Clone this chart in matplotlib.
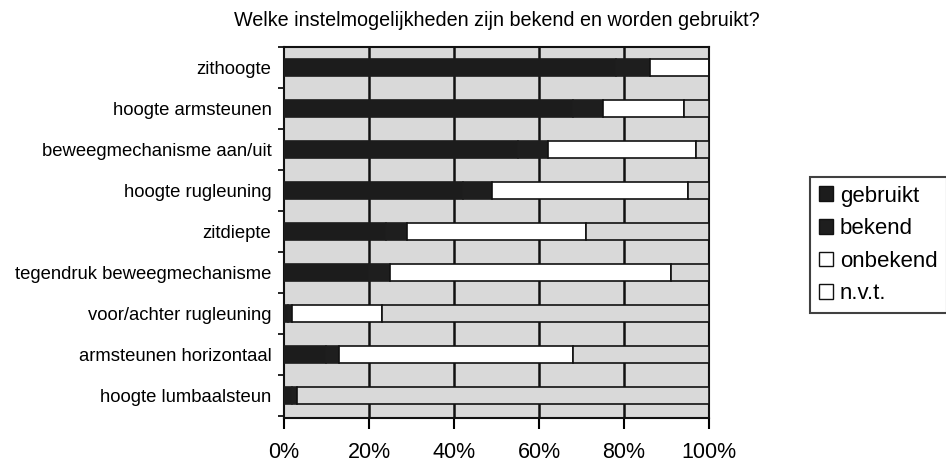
import matplotlib
matplotlib.use("Agg")
import matplotlib.pyplot as plt
import numpy as np
from matplotlib.patches import Patch

plt.rcParams['font.family'] = ['Liberation Sans', 'DejaVu Sans']

categories = ["zithoogte", "hoogte armsteunen", "beweegmechanisme aan/uit",
              "hoogte rugleuning", "zitdiepte", "tegendruk beweegmechanisme",
              "voor/achter rugleuning", "armsteunen horizontaal", "hoogte lumbaalsteun"]
gebruikt = [78, 68, 55, 42, 24, 20, 1, 10, 2]
bekend   = [8, 7, 7, 7, 5, 5, 1, 3, 1]
onbekend = [14, 19, 35, 46, 42, 66, 21, 55, 0]
nvt      = [0, 6, 3, 5, 29, 9, 77, 32, 97]
series_names = ["gebruikt", "bekend", "onbekend", "n.v.t."]
xticks = [0, 20, 40, 60, 80, 100]

fig = plt.figure(figsize=(9.46, 4.66), dpi=100)
ax = fig.add_axes([0.3002, 0.103, 0.4493, 0.796])
ax.set_facecolor('#d9d9d9')

y = np.arange(len(categories))
colors = ['#1c1c1c', '#1e1e1e', '#ffffff', '#d9d9d9']
edges = ['#1c1c1c', '#1e1e1e', '#111111', '#111111']
left = np.zeros(len(categories))
for vals, c, e in zip([gebruikt, bekend, onbekend, nvt], colors, edges):
    v = np.array(vals, dtype=float)
    ax.barh(y, v, left=left, height=0.42, color=c, edgecolor=e,
            linewidth=1.2, zorder=3)
    left += v

ax.set_xlim(0, 100)
ax.set_ylim(len(categories) - 0.45, -0.5)
ax.set_xticks(xticks)
ax.set_xticklabels([f"{t}%" for t in xticks], fontsize=15.5)
for t in xticks[1:-1]:
    ax.axvline(t, color='#111111', linewidth=1.8, zorder=2)
ax.set_yticks(y)
ax.set_yticklabels(categories, fontsize=13.3)
ax.tick_params(axis='y', length=0, pad=9)
ax.set_yticks(np.arange(len(categories) + 1) - 0.5, minor=True)
ax.tick_params(axis='y', which='minor', length=4, width=1.2)
ax.tick_params(axis='x', length=8, width=1.5, pad=9)
for s in ax.spines.values():
    s.set_linewidth(1.5)
    s.set_color('#111111')

ax.set_title("Welke instelmogelijkheden zijn bekend en worden gebruikt?",
             fontsize=14.2, pad=15)

handles = [Patch(facecolor=colors[0], edgecolor='#111111'),
           Patch(facecolor=colors[1], edgecolor='#111111'),
           Patch(facecolor='white', edgecolor='#111111'),
           Patch(facecolor='white', edgecolor='#111111')]
leg = fig.legend(handles, series_names, loc='lower left',
                 bbox_to_anchor=(0.856, 0.328), fontsize=16, frameon=True,
                 fancybox=False, edgecolor='#111111', handlelength=0.64,
                 handleheight=0.64, handletextpad=0.32, labelspacing=0.52,
                 borderpad=0.4, borderaxespad=0)
leg.get_frame().set_linewidth(1.5)

fig.savefig("out.png", dpi=100)
